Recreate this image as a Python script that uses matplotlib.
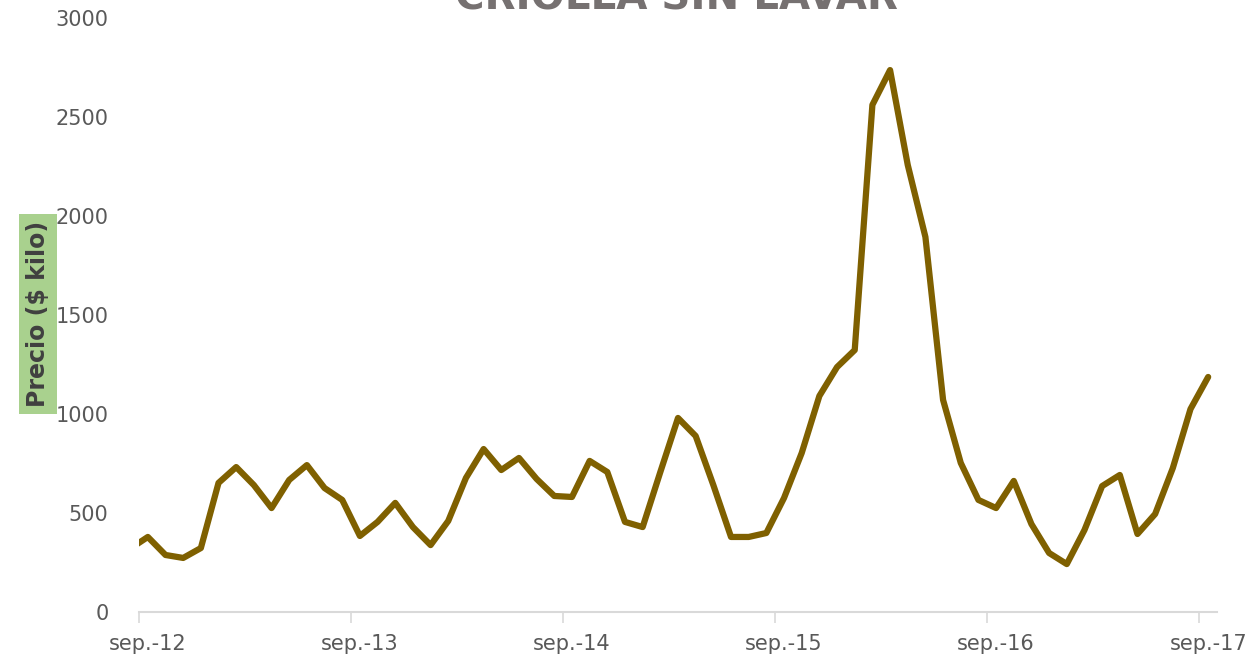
import matplotlib
matplotlib.use("Agg")
import matplotlib.pyplot as plt

# monthly price, aug-12 (clipped at the left edge) through sep-17
precio = [320,
          379, 288, 273, 323, 652, 732, 641, 525, 667, 742, 626, 566,
          384, 455, 551, 429, 338, 460, 677, 823, 717, 778, 672, 586,
          581, 763, 707, 455, 429, 707, 980, 889, 641, 379, 379, 399,
          576, 803, 1091, 1237, 1323, 2561, 2737, 2258, 1894, 1071, 753, 566,
          525, 662, 444, 298, 242, 414, 636, 692, 394, 495, 727, 1025,
          1187]
tick_labels = ['sep.-12', 'sep.-13', 'sep.-14', 'sep.-15', 'sep.-16', 'sep.-17']

x = list(range(-1, len(precio) - 1))

fig = plt.figure(figsize=(12.59, 6.65), dpi=100)
ax = fig.add_axes([139 / 1259, 1 - 612 / 665, (1217 - 139) / 1259, (612 - 18) / 665])

ax.plot(x, precio, color='#7F6000', linewidth=4.5, solid_joinstyle='round', solid_capstyle='round')

ax.set_xlim(-0.5, 60.5)
ax.set_ylim(0, 3000)
ax.set_yticks(range(0, 3001, 500))

ax.set_xticks([-0.5 + 12 * k for k in range(6)])
ax.set_xticklabels([])
ax.set_xticks([12 * k for k in range(6)], minor=True)
ax.set_xticklabels(tick_labels, minor=True)
ax.tick_params(axis='x', which='major', length=8, width=1.2, color='#D9D9D9')
ax.tick_params(axis='x', which='minor', length=0, pad=16, labelsize=15, labelcolor='#595959')
ax.tick_params(axis='y', length=0, pad=22, labelsize=15, labelcolor='#595959')

for s in ['top', 'right', 'left']:
    ax.spines[s].set_visible(False)
ax.spines['bottom'].set_color('#D9D9D9')
ax.spines['bottom'].set_linewidth(1.5)

fig.text(38 / 1259, 1 - 314 / 665, 'Precio ($ kilo)', rotation=90, ha='center', va='center',
         fontsize=17, fontweight='bold', color='#404040',
         bbox=dict(boxstyle='square,pad=0.3', facecolor='#A9D18E', edgecolor='none'))

fig.text(676 / 1259, 1 - 9 / 665, 'CRIOLLA SIN LAVAR', ha='center', va='baseline',
         fontsize=29, fontweight='bold', color='#767171')

fig.savefig('out.png', dpi=100)
